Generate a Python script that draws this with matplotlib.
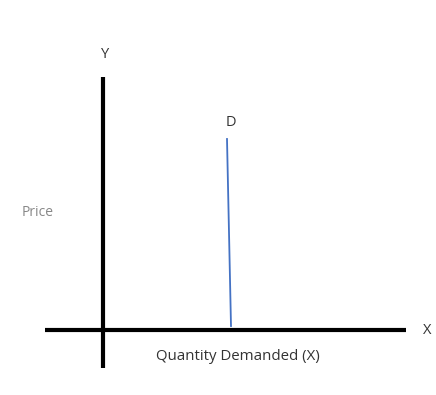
import matplotlib
matplotlib.use("Agg")
from matplotlib import pyplot as plt

# axis extents, relative to the origin (pixels-ish units, y up)
x_axis_x = [-58, 303]
x_axis_y = [0, 0]
y_axis_x = [0, 0]
y_axis_y = [-38, 253]

# demand curve (almost vertical)
demand_x = [124, 128]
demand_y = [191, 4]

plt.rcParams['font.family'] = ['Open Sans', 'DejaVu Sans']

fig = plt.figure(figsize=(4.36, 3.95), dpi=100)
ax = fig.add_axes([0, 0, 1, 1])
ax.set_xlim(-103, 333)
ax.set_ylim(-65, 330)
ax.axis('off')

ax.plot(x_axis_x, x_axis_y, color="black", linewidth=3, solid_capstyle='butt')
ax.plot(y_axis_x, y_axis_y, color="black", linewidth=3, solid_capstyle='butt')
ax.plot(demand_x, demand_y, color="#4472c4", linewidth=1.3)

ax.text(2, 275, "Y", ha='center', va='center', fontsize=10.5, color="#333333")
ax.text(324, 0, "X", ha='center', va='center', fontsize=10.5, color="#333333")
ax.text(128, 207, "D", ha='center', va='center', fontsize=10.5, color="#333333")
ax.text(135, -27, "Quantity Demanded (X)", ha='center', va='center', fontsize=10.8, color="#333333")
ax.text(-65, 118, "Price", ha='center', va='center', fontsize=10, color="#888888")

plt.savefig('out.png')
